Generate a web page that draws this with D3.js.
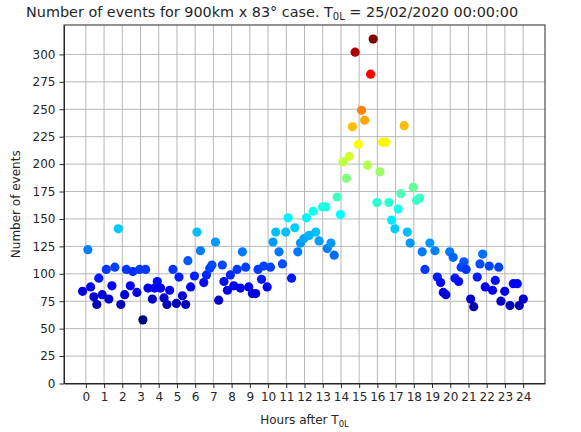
<!DOCTYPE html>
<html>
<head>
<meta charset="utf-8">
<script src="https://cdn.jsdelivr.net/npm/d3@7"></script>
<style>
  body { margin: 0; background: #fff; }
  svg text { font-family: "DejaVu Sans", sans-serif; fill: #262626; }
  .grid line { stroke: #b0b0b0; stroke-width: 0.9; }
  .axis path, .axis line { stroke: #262626; }
</style>
</head>
<body>
<div id="chart"></div>
<script>
// hours after T0L for each sample (10 min steps)
var hours = [
  -0.18, 0.11, 0.26, 0.44, 0.60, 0.71, 0.90, 1.12, 1.26, 1.43, 1.59, 1.78,
  1.92, 2.13, 2.22, 2.44, 2.58, 2.80, 2.95, 3.13, 3.28, 3.41, 3.65, 3.77,
  3.92, 4.10, 4.29, 4.45, 4.60, 4.78, 4.97, 5.11, 5.30, 5.48, 5.60, 5.75,
  5.96, 6.10, 6.29, 6.47, 6.62, 6.80, 6.92, 7.11, 7.29, 7.49, 7.58, 7.77,
  7.93, 8.12, 8.30, 8.48, 8.59, 8.77, 8.94, 9.14, 9.32, 9.45, 9.64, 9.76,
  9.95, 10.13, 10.27, 10.42, 10.60, 10.79, 10.97, 11.10, 11.29, 11.47, 11.63, 11.78,
  11.96, 12.11, 12.25, 12.47, 12.62, 12.80, 12.99, 13.17, 13.25, 13.45, 13.63, 13.79,
  13.97, 14.12, 14.30, 14.45, 14.63, 14.78, 14.95, 15.13, 15.30, 15.46, 15.63, 15.77,
  15.97, 16.14, 16.29, 16.47, 16.63, 16.78, 16.96, 17.14, 17.29, 17.47, 17.64, 17.80,
  17.97, 18.15, 18.32, 18.46, 18.61, 18.88, 19.16, 19.29, 19.47, 19.62, 19.76, 19.97,
  20.16, 20.26, 20.46, 20.60, 20.75, 20.87, 21.12, 21.29, 21.48, 21.63, 21.78, 21.92,
  22.14, 22.32, 22.47, 22.66, 22.78, 22.99, 23.28, 23.46, 23.68, 23.79, 24.01
];

var events = [
  84, 122, 88, 79, 72, 96, 81, 104, 77, 89, 106, 141,
  72, 81, 104, 89, 102, 83, 104, 58, 104, 87, 77, 87,
  93, 87, 78, 72, 85, 104, 73, 97, 80, 72, 112, 88,
  98, 138, 121, 92, 99, 105, 108, 129, 76, 108, 93, 85,
  99, 89, 104, 87, 120, 106, 88, 82, 82, 104, 95, 107,
  88, 106, 129, 138, 120, 109, 138, 151, 96, 142, 120, 128,
  132, 151, 135, 157, 138, 130, 161, 161, 123, 128, 117, 170,
  154, 202, 187, 207, 234, 302, 218, 249, 240, 199, 282, 314,
  165, 193, 220, 220, 165, 149, 141, 159, 173, 235, 138, 128,
  179, 167, 169, 120, 104, 128, 121, 97, 92, 83, 81, 120,
  115, 96, 93, 106, 111, 104, 77, 70, 97, 109, 118, 88,
  107, 85, 94, 106, 75, 84, 71, 91, 91, 71, 77
];

var xTicks = d3.range(0, 25),
    yTicks = d3.range(0, 301, 25);

var width = 581,
    height = 432,
    margin = {left: 64, right: 36, top: 25, bottom: 48.5};

var data = hours.map(function(h, i){
  return {hour: h, value: events[i]};
});

var x = d3.scaleLinear()
  .domain([-1.2, 25.2])
  .range([margin.left, width - margin.right]);

var y = d3.scaleLinear()
  .domain([0, 326.8])
  .range([height - margin.bottom, margin.top]);

// matplotlib jet colormap
function jet(t){
  var c = function(v){ return Math.max(0, Math.min(1, v)); };
  var r = c(1.5 - Math.abs(4 * t - 3)),
      g = c(1.5 - Math.abs(4 * t - 2)),
      b = c(1.5 - Math.abs(4 * t - 1));
  return d3.rgb(r * 255, g * 255, b * 255);
}
var color = d3.scaleLinear()
  .domain(d3.extent(events))
  .range([0, 1]);

var svg = d3.select('#chart')
  .append('svg')
  .attr('width', width)
  .attr('height', height);

// grid
svg.append('g')
  .attr('class', 'grid')
  .selectAll('line.v')
  .data(xTicks)
  .enter()
  .append('line')
  .attr('x1', function(d){ return x(d); })
  .attr('x2', function(d){ return x(d); })
  .attr('y1', y.range()[0])
  .attr('y2', y.range()[1]);

svg.append('g')
  .attr('class', 'grid')
  .selectAll('line.h')
  .data(yTicks)
  .enter()
  .append('line')
  .attr('x1', x.range()[0])
  .attr('x2', x.range()[1])
  .attr('y1', function(d){ return y(d); })
  .attr('y2', function(d){ return y(d); });

// points
svg.append('g')
  .selectAll('circle')
  .data(data)
  .enter()
  .append('circle')
  .attr('cx', function(d){ return x(d.hour); })
  .attr('cy', function(d){ return y(d.value); })
  .attr('r', 4.6)
  .attr('fill', function(d){ return jet(color(d.value)); });

// axes
var xAxis = svg.append('g')
  .attr('class', 'axis')
  .attr('transform', 'translate(0,' + y.range()[0] + ')')
  .call(d3.axisBottom(x).tickValues(xTicks).tickSize(4.5).tickPadding(4).tickSizeOuter(0));

var yAxis = svg.append('g')
  .attr('class', 'axis')
  .attr('transform', 'translate(' + x.range()[0] + ',0)')
  .call(d3.axisLeft(y).tickValues(yTicks).tickSize(4.5).tickPadding(4).tickSizeOuter(0));

svg.selectAll('.axis text')
  .attr('font-family', '"DejaVu Sans", sans-serif')
  .attr('font-size', 12)
  .attr('fill', '#262626');

// frame
svg.append('rect')
  .attr('x', x.range()[0])
  .attr('y', y.range()[1])
  .attr('width', x.range()[1] - x.range()[0])
  .attr('height', y.range()[0] - y.range()[1])
  .attr('fill', 'none')
  .attr('stroke', '#262626')
  .attr('stroke-width', 1);

// title
var title = svg.append('text')
  .attr('x', 26)
  .attr('y', 17)
  .attr('font-size', 14.4);
title.append('tspan').text('Number of events for 900km x 83° case. T');
title.append('tspan').text('0L').attr('font-size', 10).attr('dy', 3);
title.append('tspan').text(' = 25/02/2020 00:00:00').attr('dy', -3);

// axis labels
var xl = svg.append('text')
  .attr('x', (x.range()[0] + x.range()[1]) / 2)
  .attr('y', 424)
  .attr('text-anchor', 'middle')
  .attr('font-size', 12);
xl.append('tspan').text('Hours after T');
xl.append('tspan').text('0L').attr('font-size', 8.5).attr('dy', 2.5);

svg.append('text')
  .attr('transform', 'translate(20,' + (y.range()[0] + y.range()[1]) / 2 + ') rotate(-90)')
  .attr('text-anchor', 'middle')
  .attr('font-size', 12)
  .text('Number of events');
</script>
</body>
</html>
